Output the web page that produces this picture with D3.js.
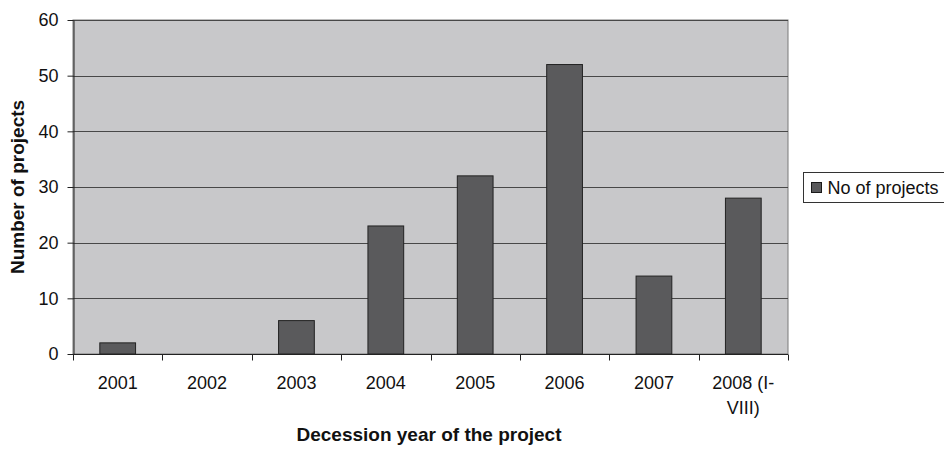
<!DOCTYPE html>
<html>
<head>
<meta charset="utf-8">
<script src="https://cdn.jsdelivr.net/npm/d3@7"></script>
<style>
  html, body { margin: 0; padding: 0; background: #fff; }
  svg text { font-family: "Liberation Sans", Arial, sans-serif; fill: #111; }
</style>
</head>
<body>
<svg id="chart" width="944" height="449"></svg>
<script>
// Projects per decision year
const years = ["2001", "2002", "2003", "2004", "2005", "2006", "2007", "2008 (I-VIII)"];
const yearLines = [["2001"], ["2002"], ["2003"], ["2004"], ["2005"], ["2006"], ["2007"], ["2008 (I-", "VIII)"]];
const projects = [2, 0, 6, 23, 32, 52, 14, 28];
const yTicks = [0, 10, 20, 30, 40, 50, 60];
const seriesName = "No of projects";

const svg = d3.select("#chart");
const plot = { left: 73, top: 20, right: 788, bottom: 354 };

const x = d3.scaleBand().domain(years).range([plot.left, plot.right]).paddingInner(0.6).paddingOuter(0.3);
const xOuter = d3.scaleBand().domain(years).range([plot.left, plot.right]);
const y = d3.scaleLinear().domain([0, 60]).range([plot.bottom, plot.top]);

// plot background
svg.append("rect")
  .attr("x", plot.left).attr("y", plot.top)
  .attr("width", plot.right - plot.left).attr("height", plot.bottom - plot.top)
  .attr("fill", "#c8c8ca").attr("stroke", "#7a7a7a").attr("stroke-width", 1);

// horizontal gridlines
svg.append("g").selectAll("line").data(yTicks.filter(d => d > 0)).join("line")
  .attr("x1", plot.left).attr("x2", plot.right)
  .attr("y1", d => Math.round(y(d)) + 0.5).attr("y2", d => Math.round(y(d)) + 0.5)
  .attr("stroke", "#484848").attr("stroke-width", 1);

// bars
svg.append("g").selectAll("rect").data(projects).join("rect")
  .attr("x", (d, i) => x(years[i]))
  .attr("y", d => y(d))
  .attr("width", x.bandwidth())
  .attr("height", d => y(0) - y(d))
  .attr("fill", "#5a5a5c").attr("stroke", "#222").attr("stroke-width", 1);

// y axis
const yAxis = svg.append("g").attr("transform", `translate(${plot.left + 0.5},0)`)
  .call(d3.axisLeft(y).tickValues(yTicks).tickSize(6).tickPadding(9).tickSizeOuter(0));
yAxis.select(".domain").attr("stroke", "#222");
yAxis.selectAll(".tick line").attr("stroke", "#222");
yAxis.selectAll(".tick text").style("font-size", "18px").attr("fill", "#111");

// x axis with ticks on category boundaries
const xg = svg.append("g").attr("transform", `translate(0,${Math.round(plot.bottom) + 0.5})`);
xg.append("line").attr("x1", plot.left).attr("x2", plot.right).attr("stroke", "#222");
const bounds = years.map(d => xOuter(d)).concat([plot.right]);
xg.selectAll("line.tk").data(bounds).join("line").attr("class", "tk")
  .attr("x1", d => Math.round(d) + 0.5).attr("x2", d => Math.round(d) + 0.5)
  .attr("y1", 0).attr("y2", 6).attr("stroke", "#222");
xg.selectAll("text").data(yearLines).join("text")
  .attr("x", (d, i) => xOuter(years[i]) + xOuter.bandwidth() / 2)
  .attr("y", 34)
  .attr("text-anchor", "middle")
  .style("font-size", "18px")
  .selectAll("tspan").data(d => d).join("tspan")
  .attr("x", function () { return d3.select(this.parentNode).attr("x"); })
  .attr("dy", (d, i) => i === 0 ? 0 : 25)
  .text(d => d);

// axis titles
svg.append("text")
  .attr("x", 429).attr("y", 441)
  .attr("text-anchor", "middle").style("font-size", "19px").style("font-weight", "bold")
  .text("Decession year of the project");
svg.append("text")
  .attr("transform", `translate(24,187) rotate(-90)`)
  .attr("text-anchor", "middle").style("font-size", "19px").style("font-weight", "bold")
  .text("Number of projects");

// legend
const lg = svg.append("g").attr("transform", "translate(803.5,172.5)");
lg.append("rect").attr("width", 142).attr("height", 30).attr("fill", "#fff").attr("stroke", "#333");
lg.append("rect").attr("x", 8).attr("y", 10).attr("width", 10).attr("height", 10)
  .attr("fill", "#5a5a5c").attr("stroke", "#1a1a1a");
lg.append("text").attr("x", 24).attr("y", 21).style("font-size", "18px").text(seriesName);
</script>
</body>
</html>
